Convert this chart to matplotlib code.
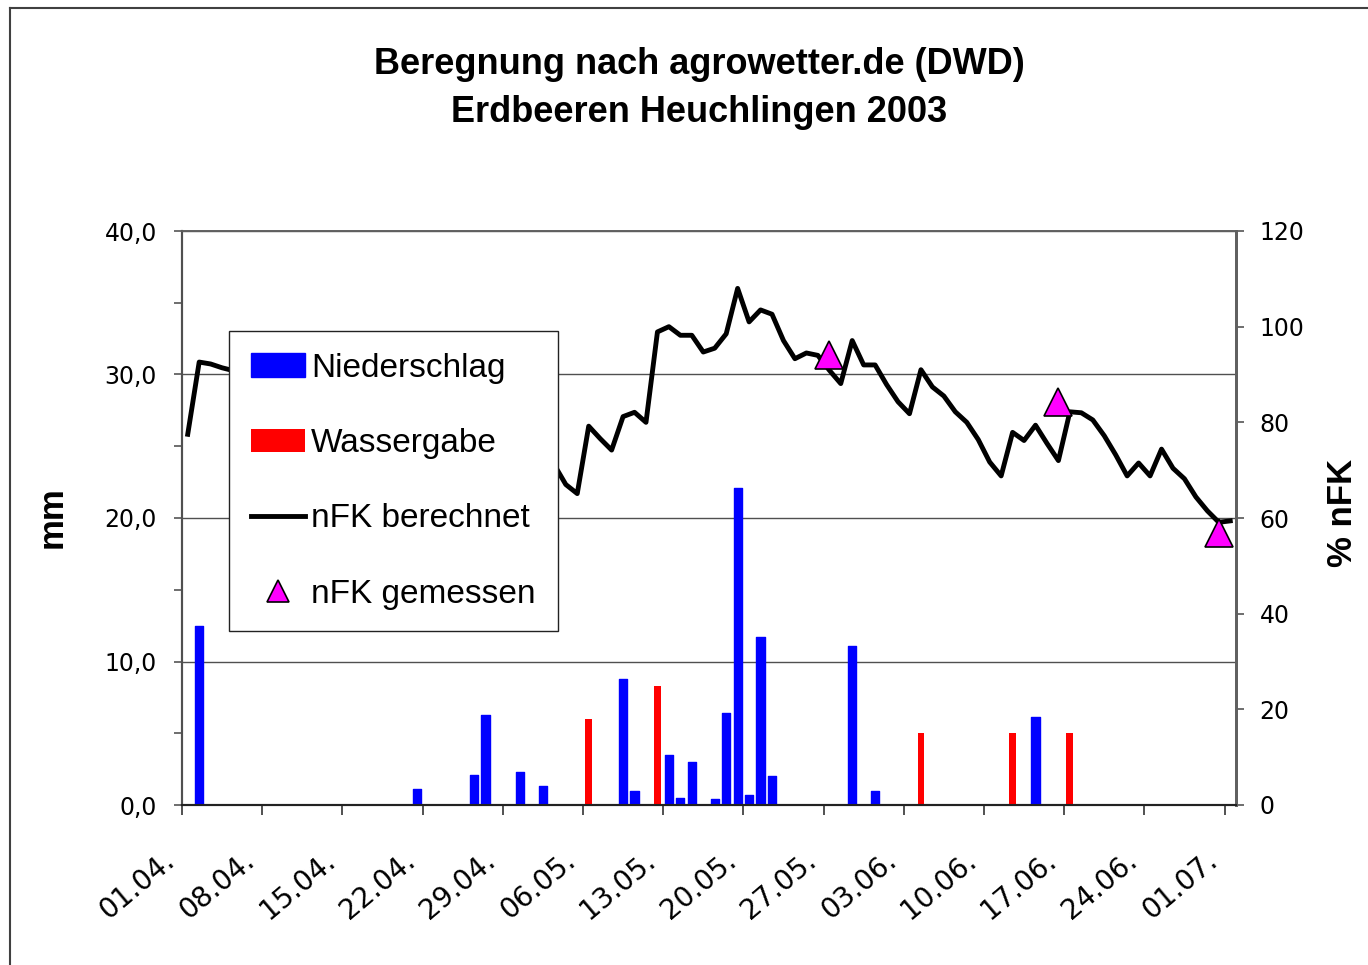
import numpy as np
import pandas as pd
import matplotlib
matplotlib.use('Agg')
import matplotlib.pyplot as plt
from matplotlib.lines import Line2D
from matplotlib.ticker import MultipleLocator, FuncFormatter
from matplotlib.transforms import ScaledTranslation

# =============================================================================
# Data, season 01.04.2003 - 01.07.2003
# =============================================================================
start = pd.Timestamp('2003-04-01')

tick_dates = ['01.04.', '08.04.', '15.04.', '22.04.', '29.04.', '06.05.', '13.05.',
              '20.05.', '27.05.', '03.06.', '10.06.', '17.06.', '24.06.', '01.07.']

# Niederschlag (mm)
rain_dates = ['02.04.', '21.04.', '26.04.', '27.04.', '30.04.', '02.05.', '09.05.',
              '10.05.', '13.05.', '14.05.', '15.05.', '17.05.', '18.05.', '19.05.',
              '20.05.', '21.05.', '22.05.', '29.05.', '31.05.', '14.06.']
rain_mm = [12.5, 1.1, 2.1, 6.3, 2.3, 1.3, 8.8,
           1.0, 3.5, 0.5, 3.0, 0.4, 6.4, 22.1,
           0.7, 11.7, 2.0, 11.1, 1.0, 6.1]

# Wassergabe (mm)
irr_dates = ['06.05.', '12.05.', '04.06.', '12.06.', '17.06.']
irr_mm = [6.0, 8.3, 5.0, 5.0, 5.0]

# nFK gemessen (%)
meas_dates = ['27.05.', '16.06.', '30.06.']
meas_pct = [94.0, 84.2, 56.9]

# nFK berechnet (%), one value per day from 01.04.; None = covered by the legend
nfk_calc = ([77.5, 92.6, 92.2, 91.4, 90.8] + [None] * 26 +
            [73.0, 71.1, 67.0, 65.1, 79.2, 76.6, 74.2, 81.2, 82.1, 80.0,
             98.9, 100.0, 98.2, 98.2, 94.7, 95.5, 98.5, 108.0, 101.0, 103.5,
             102.6, 97.1, 93.3, 94.5, 94.0, 90.9, 88.1, 97.1, 92.0, 92.0,
             87.9, 84.3, 81.8, 91.0, 87.4, 85.5, 82.2, 80.0, 76.4, 71.7,
             68.8, 77.9, 76.2, 79.4, 75.6, 72.0, 82.2, 82.0, 80.5, 77.2,
             73.2, 68.8, 71.5, 68.8, 74.4, 70.4, 68.2, 64.4, 61.5, 59.1,
             59.4])


def day_of(labels):
    # 'dd.mm.' -> days since 01.04.
    d = pd.to_datetime([s + '2003' for s in labels], format='%d.%m.%Y')
    return np.array((d - start).days)


# Excel date axis: values sit in the middle of each day slot
rain_x = day_of(rain_dates) + 0.5
irr_x = day_of(irr_dates) + 0.5
meas_x = day_of(meas_dates) + 0.5
calc_x = np.arange(len(nfk_calc)) + 0.5
calc_y = np.array([np.nan if v is None else v for v in nfk_calc], dtype=float)

# =============================================================================
# Figure
# =============================================================================
W, H = 1368, 965
fig = plt.figure(figsize=(W / 100, H / 100), dpi=100)
ax = fig.add_axes([182 / W, 1 - 805 / H, (1236 - 182) / W, (805 - 231) / H])
ax2 = ax.twinx()

bars_rain = ax.bar(rain_x, rain_mm, width=0.72, color='#0000FF',
                   edgecolor='#0000FF', linewidth=1.0, joinstyle='round', zorder=3)
bars_irr = ax.bar(irr_x, irr_mm, width=0.6, color='#FF0000', linewidth=0, zorder=3)

line_calc, = ax2.plot(calc_x, calc_y, color='black', linewidth=3.5, zorder=3)
pts_meas, = ax2.plot(meas_x, meas_pct, linestyle='none', marker='^', markersize=20,
                     markerfacecolor='#FF00FF', markeredgecolor='black',
                     markeredgewidth=1.2, zorder=4)

# axes ranges
ax.set_xlim(0, 92)
ax.set_ylim(0, 40)
ax2.set_ylim(0, 120)

# y ticks
ax.yaxis.set_major_locator(MultipleLocator(10))
ax.yaxis.set_minor_locator(MultipleLocator(5))
ax.yaxis.set_major_formatter(FuncFormatter(lambda v, p: f'{v:.1f}'.replace('.', ',')))
ax2.yaxis.set_major_locator(MultipleLocator(20))
ax2.yaxis.set_major_formatter(FuncFormatter(lambda v, p: f'{v:.0f}'))

ax.tick_params(axis='y', which='both', direction='out', length=6, width=1.2,
               color='#555555', labelsize=17, pad=12)
ax2.tick_params(axis='y', which='major', direction='out', length=6, width=1.2,
                color='#555555', labelsize=17, pad=11)

# x ticks with date labels
ax.set_xticks(day_of(tick_dates))
ax.set_xticklabels(tick_dates)
ax.tick_params(axis='x', direction='out', length=7, width=1.2, color='#333333',
               labelsize=20, pad=35)
shift = ScaledTranslation(-6 / 100, 0, fig.dpi_scale_trans)
for lab in ax.get_xticklabels():
    lab.set_rotation(40)
    lab.set_ha('right')
    lab.set_va('baseline')
    lab.set_rotation_mode('anchor')
    lab.set_transform(lab.get_transform() + shift)

# horizontal gridlines at the major mm ticks
ax.set_axisbelow(True)
ax.grid(axis='y', which='major', color='#505050', linewidth=1.0)
ax.grid(axis='x', visible=False)

for a in (ax, ax2):
    a.spines['top'].set_color('#606060')
    a.spines['top'].set_linewidth(1.2)
    a.spines['left'].set_color('#505050')
    a.spines['left'].set_linewidth(1.5)
    a.spines['right'].set_color('#606060')
    a.spines['right'].set_linewidth(2.0)
    a.spines['bottom'].set_color('#222222')
    a.spines['bottom'].set_linewidth(1.5)

# legend
leg = ax2.legend([bars_rain, bars_irr, line_calc, pts_meas],
                 ['Niederschlag', 'Wassergabe', 'nFK berechnet', 'nFK gemessen'],
                 loc='upper left', bbox_to_anchor=(229 / W, 1 - 331 / H),
                 bbox_transform=fig.transFigure, borderaxespad=0,
                 prop={'family': 'Liberation Sans', 'size': 24},
                 frameon=True, fancybox=False, shadow=False, framealpha=1,
                 edgecolor='#222222', handlelength=1.62, handleheight=0.7,
                 handletextpad=0.2, labelspacing=1.33, borderpad=0.65,
                 markerscale=0.8)
leg.get_frame().set_linewidth(1.0)

# titles and axis labels
fig.text(699 / W, 1 - 74 / H, 'Beregnung nach agrowetter.de (DWD)', ha='center',
         va='baseline', fontsize=26, fontweight='bold', family='Liberation Sans')
fig.text(699 / W, 1 - 122 / H, 'Erdbeeren Heuchlingen 2003', ha='center',
         va='baseline', fontsize=26, fontweight='bold', family='Liberation Sans')
fig.text(52 / W, 1 - 517 / H, 'mm', rotation=90, ha='center', va='center',
         fontsize=25, fontweight='bold', family='Liberation Sans')
fig.text(1342 / W, 1 - 513 / H, '% nFK', rotation=90, ha='center', va='center',
         fontsize=25, fontweight='bold', family='Liberation Sans')

# outer chart frame (only left and top edge fall inside the picture)
fig.add_artist(Line2D([10 / W, 10 / W], [0, 1 - 8 / H], transform=fig.transFigure,
                      color='#404040', linewidth=1.5))
fig.add_artist(Line2D([10 / W, 1], [1 - 8 / H, 1 - 8 / H], transform=fig.transFigure,
                      color='#404040', linewidth=1.5))

fig.savefig('out.png', dpi=100)
